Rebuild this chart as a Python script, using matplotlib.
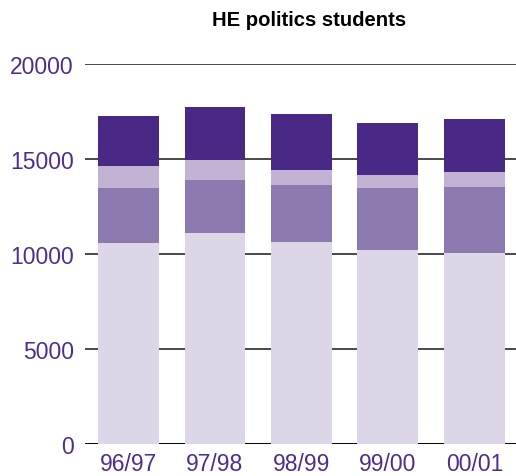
import numpy as np
import matplotlib.pyplot as plt

plt.rcParams['font.family'] = ['Liberation Sans', 'DejaVu Sans']

years = ["96/97", "97/98", "98/99", "99/00", "00/01"]
# four stacked groups, bottom to top
seg1 = [10550, 11080, 10600, 10180, 10030]
seg2 = [2900, 2790, 3000, 3270, 3470]
seg3 = [1150, 1050, 790, 680, 790]
seg4 = [2650, 2800, 2950, 2740, 2790]
yticks = [0, 5000, 10000, 15000, 20000]

colors = ["#ddd6e9", "#8c79b0", "#c2b3d5", "#4a2885"]
label_col = "#4f2d8a"

fig = plt.figure(figsize=(5.16, 4.77), dpi=100)
ax = fig.add_axes([0.1647, 0.068, 0.8353, 0.7962])

x = np.arange(len(years))
bottom = np.zeros(len(years))
for vals, c in zip([seg1, seg2, seg3, seg4], colors):
    ax.bar(x, vals, width=0.705, bottom=bottom, color=c, zorder=3)
    bottom += np.array(vals)

for t in yticks[1:]:
    ax.axhline(t, color="#3a3a3a", lw=1.3, zorder=1)
ax.axhline(0, color="black", lw=1.4, zorder=1)

ax.set_xlim(-0.503, 4.48)
ax.set_ylim(0, 20000)
ax.set_yticks(yticks)
ax.set_yticklabels([str(t) for t in yticks])
ax.set_xticks(x)
ax.set_xticklabels(years)
ax.tick_params(axis="both", length=0, labelsize=16.5, labelcolor=label_col)
ax.tick_params(axis="y", pad=8)
ax.tick_params(axis="x", pad=6)
for s in ax.spines.values():
    s.set_visible(False)

fig.text(0.598, 0.958, "HE politics students", ha="center", va="center",
         fontsize=14.6, fontweight="bold", color="black")

fig.savefig("out.png", dpi=100, facecolor="white")
